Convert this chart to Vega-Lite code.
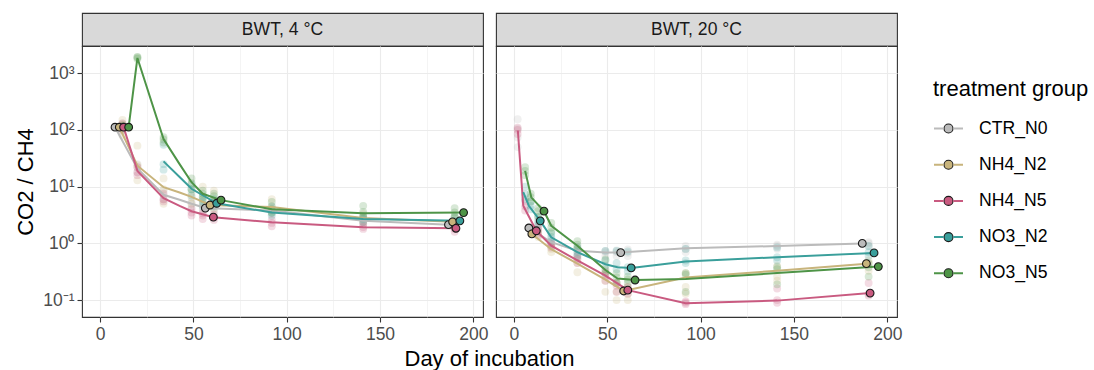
{
  "$schema": "https://vega.github.io/schema/vega-lite/v6.json",
  "background": "white",
  "padding": {"left": 14, "top": 12, "right": 10, "bottom": 0},
  "config": {"font": "Liberation Sans", "view": {"stroke": null}},
  "datasets": {
    "means4": [
      {"group":"CTR_N0","day":8.0,"value":112,"outlined":true},
      {"group":"CTR_N0","day":20,"value":21,"outlined":false},
      {"group":"CTR_N0","day":34,"value":7.2,"outlined":false},
      {"group":"CTR_N0","day":42.6,"value":5.9,"outlined":false},
      {"group":"CTR_N0","day":49,"value":5.0,"outlined":false},
      {"group":"CTR_N0","day":56.4,"value":4.2,"outlined":true},
      {"group":"CTR_N0","day":92,"value":3.8,"outlined":false},
      {"group":"CTR_N0","day":141,"value":2.5,"outlined":false},
      {"group":"CTR_N0","day":186.7,"value":2.14,"outlined":true},
      {"group":"NH4_N2","day":10.3,"value":112,"outlined":true},
      {"group":"NH4_N2","day":20,"value":23.5,"outlined":false},
      {"group":"NH4_N2","day":34,"value":9.8,"outlined":false},
      {"group":"NH4_N2","day":42.6,"value":7.9,"outlined":false},
      {"group":"NH4_N2","day":49,"value":6.6,"outlined":false},
      {"group":"NH4_N2","day":58.9,"value":4.75,"outlined":true},
      {"group":"NH4_N2","day":92,"value":4.4,"outlined":false},
      {"group":"NH4_N2","day":141,"value":2.8,"outlined":false},
      {"group":"NH4_N2","day":188.9,"value":2.4,"outlined":true},
      {"group":"NH4_N5","day":12.6,"value":112,"outlined":true},
      {"group":"NH4_N5","day":20,"value":19,"outlined":false},
      {"group":"NH4_N5","day":34,"value":6.3,"outlined":false},
      {"group":"NH4_N5","day":42.6,"value":4.6,"outlined":false},
      {"group":"NH4_N5","day":49,"value":3.7,"outlined":false},
      {"group":"NH4_N5","day":60.7,"value":2.9,"outlined":true},
      {"group":"NH4_N5","day":92,"value":2.35,"outlined":false},
      {"group":"NH4_N5","day":141,"value":1.92,"outlined":false},
      {"group":"NH4_N5","day":190.7,"value":1.85,"outlined":true},
      {"group":"NO3_N2","day":34,"value":28,"outlined":false},
      {"group":"NO3_N2","day":42.6,"value":14.8,"outlined":false},
      {"group":"NO3_N2","day":49,"value":9.2,"outlined":false},
      {"group":"NO3_N2","day":62.5,"value":5.1,"outlined":true},
      {"group":"NO3_N2","day":92,"value":3.5,"outlined":false},
      {"group":"NO3_N2","day":141,"value":2.7,"outlined":false},
      {"group":"NO3_N2","day":192.8,"value":2.5,"outlined":true},
      {"group":"NO3_N5","day":15.3,"value":112,"outlined":true},
      {"group":"NO3_N5","day":20,"value":1860,"outlined":false},
      {"group":"NO3_N5","day":34,"value":69,"outlined":false},
      {"group":"NO3_N5","day":42.6,"value":25,"outlined":false},
      {"group":"NO3_N5","day":49,"value":12,"outlined":false},
      {"group":"NO3_N5","day":55,"value":7.5,"outlined":false},
      {"group":"NO3_N5","day":64.8,"value":5.8,"outlined":true},
      {"group":"NO3_N5","day":92,"value":4.0,"outlined":false},
      {"group":"NO3_N5","day":141,"value":3.4,"outlined":false},
      {"group":"NO3_N5","day":194.8,"value":3.5,"outlined":true}
    ],
    "means20": [
      {"group":"CTR_N0","day":8.0,"value":1.87,"outlined":true},
      {"group":"CTR_N0","day":20,"value":1.05,"outlined":false},
      {"group":"CTR_N0","day":34,"value":0.74,"outlined":false},
      {"group":"CTR_N0","day":49,"value":0.69,"outlined":false},
      {"group":"CTR_N0","day":57.2,"value":0.69,"outlined":true},
      {"group":"CTR_N0","day":92,"value":0.82,"outlined":false},
      {"group":"CTR_N0","day":141,"value":0.9,"outlined":false},
      {"group":"CTR_N0","day":186.6,"value":1.0,"outlined":true},
      {"group":"NH4_N2","day":9.6,"value":1.47,"outlined":true},
      {"group":"NH4_N2","day":20,"value":0.79,"outlined":false},
      {"group":"NH4_N2","day":34,"value":0.44,"outlined":false},
      {"group":"NH4_N2","day":49,"value":0.23,"outlined":false},
      {"group":"NH4_N2","day":58.8,"value":0.145,"outlined":true},
      {"group":"NH4_N2","day":92,"value":0.25,"outlined":false},
      {"group":"NH4_N2","day":141,"value":0.33,"outlined":false},
      {"group":"NH4_N2","day":188.8,"value":0.44,"outlined":true},
      {"group":"NH4_N5","day":2.1,"value":98,"outlined":false},
      {"group":"NH4_N5","day":5,"value":4.6,"outlined":false},
      {"group":"NH4_N5","day":12,"value":1.67,"outlined":true},
      {"group":"NH4_N5","day":20,"value":0.91,"outlined":false},
      {"group":"NH4_N5","day":34,"value":0.5,"outlined":false},
      {"group":"NH4_N5","day":49,"value":0.27,"outlined":false},
      {"group":"NH4_N5","day":61,"value":0.15,"outlined":true},
      {"group":"NH4_N5","day":92,"value":0.088,"outlined":false},
      {"group":"NH4_N5","day":141,"value":0.098,"outlined":false},
      {"group":"NH4_N5","day":190.8,"value":0.133,"outlined":true},
      {"group":"NO3_N2","day":5,"value":8,"outlined":false},
      {"group":"NO3_N2","day":8,"value":4.6,"outlined":false},
      {"group":"NO3_N2","day":14.1,"value":2.5,"outlined":true},
      {"group":"NO3_N2","day":20,"value":1.28,"outlined":false},
      {"group":"NO3_N2","day":34,"value":0.7,"outlined":false},
      {"group":"NO3_N2","day":49,"value":0.43,"outlined":false},
      {"group":"NO3_N2","day":55.5,"value":0.38,"outlined":false},
      {"group":"NO3_N2","day":62.8,"value":0.37,"outlined":true},
      {"group":"NO3_N2","day":92,"value":0.48,"outlined":false},
      {"group":"NO3_N2","day":141,"value":0.57,"outlined":false},
      {"group":"NO3_N2","day":192.9,"value":0.68,"outlined":true},
      {"group":"NO3_N5","day":6,"value":19,"outlined":false},
      {"group":"NO3_N5","day":9.3,"value":6.5,"outlined":false},
      {"group":"NO3_N5","day":16.1,"value":3.7,"outlined":true},
      {"group":"NO3_N5","day":20,"value":2.05,"outlined":false},
      {"group":"NO3_N5","day":34,"value":0.91,"outlined":false},
      {"group":"NO3_N5","day":49,"value":0.34,"outlined":false},
      {"group":"NO3_N5","day":55.5,"value":0.24,"outlined":false},
      {"group":"NO3_N5","day":64.9,"value":0.226,"outlined":true},
      {"group":"NO3_N5","day":92,"value":0.235,"outlined":false},
      {"group":"NO3_N5","day":141,"value":0.3,"outlined":false},
      {"group":"NO3_N5","day":195.2,"value":0.39,"outlined":true}
    ],
    "reps4": [
      {"group":"CTR_N0","day":12,"value":95},{"group":"CTR_N0","day":12,"value":120},{"group":"CTR_N0","day":12,"value":130},
      {"group":"NH4_N2","day":12,"value":80},{"group":"NH4_N2","day":12,"value":125},{"group":"NH4_N2","day":12,"value":150},
      {"group":"NH4_N5","day":12,"value":100},{"group":"NH4_N5","day":12,"value":115},{"group":"NH4_N5","day":12,"value":130},
      {"group":"NO3_N5","day":12,"value":105},{"group":"NO3_N5","day":12,"value":115},{"group":"NO3_N5","day":12,"value":120},
      {"group":"CTR_N0","day":20,"value":18},{"group":"CTR_N0","day":20,"value":22},{"group":"CTR_N0","day":20,"value":25},
      {"group":"NH4_N2","day":20,"value":13},{"group":"NH4_N2","day":20,"value":24},{"group":"NH4_N2","day":20,"value":53},
      {"group":"NH4_N5","day":20,"value":16},{"group":"NH4_N5","day":20,"value":18},{"group":"NH4_N5","day":20,"value":22},
      {"group":"NO3_N5","day":20,"value":1800},{"group":"NO3_N5","day":20,"value":1900},{"group":"NO3_N5","day":20,"value":1950},
      {"group":"CTR_N0","day":34,"value":6},{"group":"CTR_N0","day":34,"value":7},{"group":"CTR_N0","day":34,"value":8.5},
      {"group":"NH4_N2","day":34,"value":5},{"group":"NH4_N2","day":34,"value":9},{"group":"NH4_N2","day":34,"value":14},
      {"group":"NH4_N5","day":34,"value":5.5},{"group":"NH4_N5","day":34,"value":6},{"group":"NH4_N5","day":34,"value":7.5},
      {"group":"NO3_N2","day":34,"value":20},{"group":"NO3_N2","day":34,"value":25},{"group":"NO3_N2","day":34,"value":55},
      {"group":"NO3_N5","day":34,"value":60},{"group":"NO3_N5","day":34,"value":68},{"group":"NO3_N5","day":34,"value":75},
      {"group":"CTR_N0","day":49,"value":4.4},{"group":"CTR_N0","day":49,"value":5},{"group":"CTR_N0","day":49,"value":5.5},
      {"group":"NH4_N2","day":49,"value":5},{"group":"NH4_N2","day":49,"value":6.5},{"group":"NH4_N2","day":49,"value":8},
      {"group":"NH4_N5","day":49,"value":3.1},{"group":"NH4_N5","day":49,"value":3.5},{"group":"NH4_N5","day":49,"value":4},
      {"group":"NO3_N2","day":49,"value":7},{"group":"NO3_N2","day":49,"value":9},{"group":"NO3_N2","day":49,"value":11},
      {"group":"NO3_N5","day":49,"value":9},{"group":"NO3_N5","day":49,"value":11.5},{"group":"NO3_N5","day":49,"value":14},
      {"group":"CTR_N0","day":55,"value":3.8},{"group":"CTR_N0","day":55,"value":4.2},{"group":"CTR_N0","day":55,"value":4.8},
      {"group":"NH4_N2","day":55,"value":5},{"group":"NH4_N2","day":55,"value":6.8},{"group":"NH4_N2","day":55,"value":10},
      {"group":"NH4_N5","day":55,"value":2.7},{"group":"NH4_N5","day":55,"value":3.1},{"group":"NH4_N5","day":55,"value":3.4},
      {"group":"NO3_N2","day":55,"value":4.5},{"group":"NO3_N2","day":55,"value":5.5},{"group":"NO3_N2","day":55,"value":6.5},
      {"group":"NO3_N5","day":55,"value":6},{"group":"NO3_N5","day":55,"value":7.5},{"group":"NO3_N5","day":55,"value":8.5},
      {"group":"CTR_N0","day":61,"value":3.7},{"group":"CTR_N0","day":61,"value":4.2},{"group":"CTR_N0","day":61,"value":4.5},
      {"group":"NH4_N2","day":61,"value":4},{"group":"NH4_N2","day":61,"value":5.5},{"group":"NH4_N2","day":61,"value":8.5},
      {"group":"NH4_N5","day":61,"value":2.6},{"group":"NH4_N5","day":61,"value":2.9},{"group":"NH4_N5","day":61,"value":3.2},
      {"group":"NO3_N2","day":61,"value":4.5},{"group":"NO3_N2","day":61,"value":5.2},{"group":"NO3_N2","day":61,"value":6},
      {"group":"NO3_N5","day":61,"value":5.5},{"group":"NO3_N5","day":61,"value":6.8},{"group":"NO3_N5","day":61,"value":7.5},
      {"group":"CTR_N0","day":92,"value":3.3},{"group":"CTR_N0","day":92,"value":3.8},{"group":"CTR_N0","day":92,"value":4.2},
      {"group":"NH4_N2","day":92,"value":3.8},{"group":"NH4_N2","day":92,"value":4.5},{"group":"NH4_N2","day":92,"value":6},
      {"group":"NH4_N5","day":92,"value":2},{"group":"NH4_N5","day":92,"value":2.3},{"group":"NH4_N5","day":92,"value":2.6},
      {"group":"NO3_N2","day":92,"value":3.1},{"group":"NO3_N2","day":92,"value":3.5},{"group":"NO3_N2","day":92,"value":4.5},
      {"group":"NO3_N5","day":92,"value":3.5},{"group":"NO3_N5","day":92,"value":4},{"group":"NO3_N5","day":92,"value":5.4},
      {"group":"CTR_N0","day":141,"value":2.2},{"group":"CTR_N0","day":141,"value":2.5},{"group":"CTR_N0","day":141,"value":2.8},
      {"group":"NH4_N2","day":141,"value":2.4},{"group":"NH4_N2","day":141,"value":2.8},{"group":"NH4_N2","day":141,"value":3.3},
      {"group":"NH4_N5","day":141,"value":1.8},{"group":"NH4_N5","day":141,"value":1.95},{"group":"NH4_N5","day":141,"value":2.2},
      {"group":"NO3_N2","day":141,"value":2.4},{"group":"NO3_N2","day":141,"value":2.7},{"group":"NO3_N2","day":141,"value":3},
      {"group":"NO3_N5","day":141,"value":3},{"group":"NO3_N5","day":141,"value":3.6},{"group":"NO3_N5","day":141,"value":4.6},
      {"group":"CTR_N0","day":190,"value":1.9},{"group":"CTR_N0","day":190,"value":2.1},{"group":"CTR_N0","day":190,"value":2.4},
      {"group":"NH4_N2","day":190,"value":2.1},{"group":"NH4_N2","day":190,"value":2.4},{"group":"NH4_N2","day":190,"value":2.8},
      {"group":"NH4_N5","day":190,"value":1.6},{"group":"NH4_N5","day":190,"value":1.8},{"group":"NH4_N5","day":190,"value":2},
      {"group":"NO3_N2","day":190,"value":2.2},{"group":"NO3_N2","day":190,"value":2.5},{"group":"NO3_N2","day":190,"value":2.9},
      {"group":"NO3_N5","day":190,"value":3},{"group":"NO3_N5","day":190,"value":3.5},{"group":"NO3_N5","day":190,"value":4.2}
    ],
    "reps20": [
      {"group":"CTR_N0","day":2,"value":50},{"group":"CTR_N0","day":2,"value":74},{"group":"CTR_N0","day":2,"value":105},{"group":"CTR_N0","day":2,"value":155},
      {"group":"NH4_N5","day":2,"value":85},{"group":"NH4_N5","day":2,"value":100},{"group":"NH4_N5","day":2,"value":110},
      {"group":"NH4_N5","day":6,"value":3.8},{"group":"NH4_N5","day":6,"value":4.5},{"group":"NH4_N5","day":6,"value":5.5},
      {"group":"NO3_N2","day":6,"value":6},{"group":"NO3_N2","day":6,"value":7.4},{"group":"NO3_N2","day":6,"value":10},
      {"group":"NO3_N5","day":6,"value":16},{"group":"NO3_N5","day":6,"value":19},{"group":"NO3_N5","day":6,"value":22},
      {"group":"NO3_N2","day":9,"value":4},{"group":"NO3_N2","day":9,"value":4.6},{"group":"NO3_N2","day":9,"value":5.5},
      {"group":"NO3_N5","day":9,"value":5.5},{"group":"NO3_N5","day":9,"value":6.5},{"group":"NO3_N5","day":9,"value":7.5},
      {"group":"CTR_N0","day":13,"value":1.6},{"group":"CTR_N0","day":13,"value":1.9},{"group":"CTR_N0","day":13,"value":2.2},
      {"group":"NH4_N2","day":13,"value":1.3},{"group":"NH4_N2","day":13,"value":1.5},{"group":"NH4_N2","day":13,"value":1.7},
      {"group":"NH4_N5","day":13,"value":1.4},{"group":"NH4_N5","day":13,"value":1.7},{"group":"NH4_N5","day":13,"value":2},
      {"group":"NO3_N2","day":13,"value":2.2},{"group":"NO3_N2","day":13,"value":2.5},{"group":"NO3_N2","day":13,"value":2.9},
      {"group":"NO3_N5","day":13,"value":3},{"group":"NO3_N5","day":13,"value":3.7},{"group":"NO3_N5","day":13,"value":4.2},
      {"group":"CTR_N0","day":20,"value":0.9},{"group":"CTR_N0","day":20,"value":1.05},{"group":"CTR_N0","day":20,"value":1.2},
      {"group":"NH4_N2","day":20,"value":0.7},{"group":"NH4_N2","day":20,"value":0.8},{"group":"NH4_N2","day":20,"value":0.9},
      {"group":"NH4_N5","day":20,"value":0.85},{"group":"NH4_N5","day":20,"value":0.95},{"group":"NH4_N5","day":20,"value":1},
      {"group":"NO3_N2","day":20,"value":1.1},{"group":"NO3_N2","day":20,"value":1.3},{"group":"NO3_N2","day":20,"value":1.5},
      {"group":"NO3_N5","day":20,"value":1.6},{"group":"NO3_N5","day":20,"value":1.9},{"group":"NO3_N5","day":20,"value":2.3},
      {"group":"CTR_N0","day":34,"value":0.65},{"group":"CTR_N0","day":34,"value":0.75},{"group":"CTR_N0","day":34,"value":0.85},
      {"group":"NH4_N2","day":34,"value":0.31},{"group":"NH4_N2","day":34,"value":0.45},{"group":"NH4_N2","day":34,"value":0.55},
      {"group":"NH4_N5","day":34,"value":0.45},{"group":"NH4_N5","day":34,"value":0.52},{"group":"NH4_N5","day":34,"value":0.6},
      {"group":"NO3_N2","day":34,"value":0.6},{"group":"NO3_N2","day":34,"value":0.7},{"group":"NO3_N2","day":34,"value":0.85},
      {"group":"NO3_N5","day":34,"value":0.8},{"group":"NO3_N5","day":34,"value":0.95},{"group":"NO3_N5","day":34,"value":1.1},
      {"group":"CTR_N0","day":49,"value":0.6},{"group":"CTR_N0","day":49,"value":0.7},{"group":"CTR_N0","day":49,"value":0.74},
      {"group":"NH4_N2","day":49,"value":0.14},{"group":"NH4_N2","day":49,"value":0.22},{"group":"NH4_N2","day":49,"value":0.29},
      {"group":"NH4_N5","day":49,"value":0.22},{"group":"NH4_N5","day":49,"value":0.27},{"group":"NH4_N5","day":49,"value":0.32},
      {"group":"NO3_N2","day":49,"value":0.4},{"group":"NO3_N2","day":49,"value":0.5},{"group":"NO3_N2","day":49,"value":0.74},
      {"group":"NO3_N5","day":49,"value":0.3},{"group":"NO3_N5","day":49,"value":0.35},{"group":"NO3_N5","day":49,"value":0.52},
      {"group":"CTR_N0","day":55,"value":0.6},{"group":"CTR_N0","day":55,"value":0.7},{"group":"CTR_N0","day":55,"value":0.75},
      {"group":"NH4_N2","day":55,"value":0.1},{"group":"NH4_N2","day":55,"value":0.14},{"group":"NH4_N2","day":55,"value":0.2},
      {"group":"NH4_N5","day":55,"value":0.14},{"group":"NH4_N5","day":55,"value":0.18},{"group":"NH4_N5","day":55,"value":0.2},
      {"group":"NO3_N2","day":55,"value":0.35},{"group":"NO3_N2","day":55,"value":0.45},{"group":"NO3_N2","day":55,"value":0.74},
      {"group":"NO3_N5","day":55,"value":0.2},{"group":"NO3_N5","day":55,"value":0.25},{"group":"NO3_N5","day":55,"value":0.3},
      {"group":"CTR_N0","day":61,"value":0.6},{"group":"CTR_N0","day":61,"value":0.68},{"group":"CTR_N0","day":61,"value":0.78},
      {"group":"NH4_N2","day":61,"value":0.1},{"group":"NH4_N2","day":61,"value":0.13},{"group":"NH4_N2","day":61,"value":0.17},
      {"group":"NH4_N5","day":61,"value":0.13},{"group":"NH4_N5","day":61,"value":0.15},{"group":"NH4_N5","day":61,"value":0.17},
      {"group":"NO3_N2","day":61,"value":0.32},{"group":"NO3_N2","day":61,"value":0.38},{"group":"NO3_N2","day":61,"value":0.72},
      {"group":"NO3_N5","day":61,"value":0.2},{"group":"NO3_N5","day":61,"value":0.23},{"group":"NO3_N5","day":61,"value":0.26},
      {"group":"CTR_N0","day":92,"value":0.7},{"group":"CTR_N0","day":92,"value":0.8},{"group":"CTR_N0","day":92,"value":0.9},
      {"group":"NH4_N2","day":92,"value":0.13},{"group":"NH4_N2","day":92,"value":0.17},{"group":"NH4_N2","day":92,"value":0.3},
      {"group":"NH4_N5","day":92,"value":0.085},{"group":"NH4_N5","day":92,"value":0.09},{"group":"NH4_N5","day":92,"value":0.095},
      {"group":"NO3_N2","day":92,"value":0.45},{"group":"NO3_N2","day":92,"value":0.5},{"group":"NO3_N2","day":92,"value":0.8},
      {"group":"NO3_N5","day":92,"value":0.14},{"group":"NO3_N5","day":92,"value":0.28},{"group":"NO3_N5","day":92,"value":0.3},
      {"group":"CTR_N0","day":141,"value":0.8},{"group":"CTR_N0","day":141,"value":0.9},{"group":"CTR_N0","day":141,"value":0.95},
      {"group":"NH4_N2","day":141,"value":0.22},{"group":"NH4_N2","day":141,"value":0.26},{"group":"NH4_N2","day":141,"value":0.4},
      {"group":"NH4_N5","day":141,"value":0.09},{"group":"NH4_N5","day":141,"value":0.1},{"group":"NH4_N5","day":141,"value":0.16},
      {"group":"NO3_N2","day":141,"value":0.5},{"group":"NO3_N2","day":141,"value":0.57},{"group":"NO3_N2","day":141,"value":0.85},
      {"group":"NO3_N5","day":141,"value":0.19},{"group":"NO3_N5","day":141,"value":0.35},{"group":"NO3_N5","day":141,"value":0.38},
      {"group":"CTR_N0","day":190,"value":0.9},{"group":"CTR_N0","day":190,"value":1},{"group":"CTR_N0","day":190,"value":1.05},
      {"group":"NH4_N2","day":190,"value":0.33},{"group":"NH4_N2","day":190,"value":0.44},{"group":"NH4_N2","day":190,"value":0.5},
      {"group":"NH4_N5","day":190,"value":0.12},{"group":"NH4_N5","day":190,"value":0.13},{"group":"NH4_N5","day":190,"value":0.2},
      {"group":"NO3_N2","day":190,"value":0.6},{"group":"NO3_N2","day":190,"value":0.7},{"group":"NO3_N2","day":190,"value":0.9},
      {"group":"NO3_N5","day":190,"value":0.26},{"group":"NO3_N5","day":190,"value":0.38},{"group":"NO3_N5","day":190,"value":0.45}
    ]
  },
  "columns": 2,
  "bounds": "flush",
  "spacing": {"row": 0, "column": 13},
  "concat": [
    {
      "width": 401, "height": 33,
      "view": {"fill": "#D9D9D9", "stroke": "#333333", "strokeWidth": 1.1},
      "data": {"values": [{"label": "BWT, 4 °C"}]},
      "mark": {"type": "text", "fontSize": 17.6, "color": "#1A1A1A", "align": "center", "baseline": "middle"},
      "encoding": {"text": {"field": "label", "type": "nominal"}}
    },
    {
      "width": 401, "height": 33,
      "view": {"fill": "#D9D9D9", "stroke": "#333333", "strokeWidth": 1.1},
      "data": {"values": [{"label": "BWT, 20 °C"}]},
      "mark": {"type": "text", "fontSize": 17.6, "color": "#1A1A1A", "align": "center", "baseline": "middle"},
      "encoding": {"text": {"field": "label", "type": "nominal"}}
    },
    {
      "width": 401, "height": 271,
      "view": {"stroke": "#333333", "strokeWidth": 1.1},
      "encoding": {
        "x": {"field": "day", "type": "quantitative",
          "scale": {"domain": [-9.7, 205.2], "nice": false, "zero": false},
          "axis": {"values": [0, 25, 50, 75, 100, 125, 150, 175, 200],
            "labelExpr": "datum.value % 50 === 0 ? datum.label : ''",
            "grid": true, "gridColor": "#EBEBEB",
            "gridWidth": {"condition": {"test": "datum.value % 50 === 0", "value": 1.1}, "value": 0.55},
            "tickOpacity": {"condition": {"test": "datum.value % 50 === 0", "value": 1}, "value": 0},
            "domain": false, "tickColor": "#333333", "tickSize": 5, "tickWidth": 1.1,
            "labelColor": "#4D4D4D", "labelFontSize": 17.5, "labelPadding": 3, "labelFlush": false, "labelOverlap": false,
            "title": "Day of incubation", "titleX": 407, "titleFontSize": 22, "titleFontWeight": "normal", "titleColor": "#000000", "titlePadding": 6}},
        "y": {"field": "value", "type": "quantitative",
          "scale": {"type": "log", "domain": [0.0504, 3027], "nice": false},
          "axis": {"values": [0.1, 1, 10, 100, 1000],
            "labelExpr": "datum.value > 500 ? '10³' : datum.value > 50 ? '10²' : datum.value > 5 ? '10¹' : datum.value > 0.5 ? '10⁰' : '10⁻¹'",
            "grid": true, "gridColor": "#EBEBEB", "gridWidth": 1.1, "domain": false,
            "tickColor": "#333333", "tickSize": 5, "tickWidth": 1.1,
            "labelColor": "#4D4D4D", "labelFontSize": 17.5, "labelPadding": 3, "labelOverlap": false, "labelFlush": false,
            "title": "CO2 / CH4", "titleFontSize": 22, "titleFontWeight": "normal", "titleColor": "#000000", "titlePadding": 5}}
      },
      "layer": [
        {"data": {"name": "reps4"}, "mark": {"type": "circle", "size": 62, "opacity": 0.22},
          "encoding": {"fill": {"field": "group", "type": "nominal",
            "scale": {"domain": ["CTR_N0", "NH4_N2", "NH4_N5", "NO3_N2", "NO3_N5"], "range": ["#BBBBBB", "#C8B47C", "#C95A80", "#3A9F9B", "#4E9447"]},
            "legend": {"title": "treatment group", "orient": "none", "legendX": 851, "legendY": 66, "padding": 0,
              "titleFontSize": 22, "titleFontWeight": "normal", "titleColor": "transparent", "titlePadding": 12,
              "labelFontSize": 17.6, "labelColor": "transparent", "labelOffset": 15, "rowPadding": 11.2,
              "symbolType": "M0.31,0A0.31,0.31,0,1,1,-0.31,0A0.31,0.31,0,1,1,0.31,0Z", "symbolSize": 841,
              "symbolOpacity": 1, "symbolStrokeColor": "#1A1A1A", "symbolStrokeWidth": 1.1,
              "encode": {"symbols": {"update": {"fill": {"scale": "fill", "field": "value"}, "stroke": {"value": "#1A1A1A"}, "opacity": {"value": 1}, "fillOpacity": {"value": 1}, "strokeWidth": {"value": 1.1}}}}}}}},
        {"data": {"name": "means4"}, "mark": {"type": "line", "strokeWidth": 2},
          "encoding": {"stroke": {"field": "group", "type": "nominal",
            "scale": {"range": ["#BBBBBB", "#C8B47C", "#C95A80", "#3A9F9B", "#4E9447"]},
            "legend": {"title": "treatment group", "orient": "none", "legendX": 851, "legendY": 66, "padding": 0,
              "titleFontSize": 22, "titleFontWeight": "normal", "titleColor": "#000000", "titlePadding": 12,
              "labelFontSize": 17.6, "labelColor": "#000000", "labelOffset": 15, "rowPadding": 11.2,
              "symbolType": "M-1,0H-0.33M0.33,0H1", "symbolSize": 841,
              "encode": {"symbols": {"update": {"stroke": {"scale": "stroke", "field": "value"}, "fill": {"value": "transparent"}, "opacity": {"value": 1}, "strokeWidth": {"value": 2}}}}}}}},
        {"data": {"name": "means4"}, "transform": [{"filter": "datum.outlined"}], "mark": {"type": "point", "filled": true, "size": 60, "opacity": 1, "stroke": "#1A1A1A", "strokeWidth": 1.1},
          "encoding": {"fill": {"field": "group", "type": "nominal",
            "scale": {"domain": ["CTR_N0", "NH4_N2", "NH4_N5", "NO3_N2", "NO3_N5"], "range": ["#BBBBBB", "#C8B47C", "#C95A80", "#3A9F9B", "#4E9447"]},
            "legend": {"title": "treatment group", "orient": "none", "legendX": 851, "legendY": 66, "padding": 0,
              "titleFontSize": 22, "titleFontWeight": "normal", "titleColor": "transparent", "titlePadding": 12,
              "labelFontSize": 17.6, "labelColor": "transparent", "labelOffset": 15, "rowPadding": 11.2,
              "symbolType": "M0.31,0A0.31,0.31,0,1,1,-0.31,0A0.31,0.31,0,1,1,0.31,0Z", "symbolSize": 841,
              "symbolOpacity": 1, "symbolStrokeColor": "#1A1A1A", "symbolStrokeWidth": 1.1,
              "encode": {"symbols": {"update": {"fill": {"scale": "fill", "field": "value"}, "stroke": {"value": "#1A1A1A"}, "opacity": {"value": 1}, "fillOpacity": {"value": 1}, "strokeWidth": {"value": 1.1}}}}}}}}
      ]
    },
    {
      "width": 401, "height": 271,
      "view": {"stroke": "#333333", "strokeWidth": 1.1},
      "encoding": {
        "x": {"field": "day", "type": "quantitative",
          "scale": {"domain": [-9.6, 205.2], "nice": false, "zero": false},
          "axis": {"values": [0, 25, 50, 75, 100, 125, 150, 175, 200],
            "labelExpr": "datum.value % 50 === 0 ? datum.label : ''",
            "grid": true, "gridColor": "#EBEBEB",
            "gridWidth": {"condition": {"test": "datum.value % 50 === 0", "value": 1.1}, "value": 0.55},
            "tickOpacity": {"condition": {"test": "datum.value % 50 === 0", "value": 1}, "value": 0},
            "domain": false, "tickColor": "#333333", "tickSize": 5, "tickWidth": 1.1,
            "labelColor": "#4D4D4D", "labelFontSize": 17.5, "labelPadding": 3, "labelFlush": false, "labelOverlap": false,
            "title": null}},
        "y": {"field": "value", "type": "quantitative",
          "scale": {"type": "log", "domain": [0.0504, 3027], "nice": false},
          "axis": {"values": [0.1, 1, 10, 100, 1000], "labels": false, "ticks": false, "domain": false, "title": null,
            "grid": true, "gridColor": "#EBEBEB", "gridWidth": 1.1, "minExtent": 0}}
      },
      "layer": [
        {"data": {"name": "reps20"}, "mark": {"type": "circle", "size": 62, "opacity": 0.22},
          "encoding": {"fill": {"field": "group", "type": "nominal",
            "scale": {"domain": ["CTR_N0", "NH4_N2", "NH4_N5", "NO3_N2", "NO3_N5"], "range": ["#BBBBBB", "#C8B47C", "#C95A80", "#3A9F9B", "#4E9447"]},
            "legend": {"title": "treatment group", "orient": "none", "legendX": 851, "legendY": 66, "padding": 0,
              "titleFontSize": 22, "titleFontWeight": "normal", "titleColor": "transparent", "titlePadding": 12,
              "labelFontSize": 17.6, "labelColor": "transparent", "labelOffset": 15, "rowPadding": 11.2,
              "symbolType": "M0.31,0A0.31,0.31,0,1,1,-0.31,0A0.31,0.31,0,1,1,0.31,0Z", "symbolSize": 841,
              "symbolOpacity": 1, "symbolStrokeColor": "#1A1A1A", "symbolStrokeWidth": 1.1,
              "encode": {"symbols": {"update": {"fill": {"scale": "fill", "field": "value"}, "stroke": {"value": "#1A1A1A"}, "opacity": {"value": 1}, "fillOpacity": {"value": 1}, "strokeWidth": {"value": 1.1}}}}}}}},
        {"data": {"name": "means20"}, "mark": {"type": "line", "strokeWidth": 2},
          "encoding": {"stroke": {"field": "group", "type": "nominal",
            "scale": {"range": ["#BBBBBB", "#C8B47C", "#C95A80", "#3A9F9B", "#4E9447"]},
            "legend": {"title": "treatment group", "orient": "none", "legendX": 851, "legendY": 66, "padding": 0,
              "titleFontSize": 22, "titleFontWeight": "normal", "titleColor": "#000000", "titlePadding": 12,
              "labelFontSize": 17.6, "labelColor": "#000000", "labelOffset": 15, "rowPadding": 11.2,
              "symbolType": "M-1,0H-0.33M0.33,0H1", "symbolSize": 841,
              "encode": {"symbols": {"update": {"stroke": {"scale": "stroke", "field": "value"}, "fill": {"value": "transparent"}, "opacity": {"value": 1}, "strokeWidth": {"value": 2}}}}}}}},
        {"data": {"name": "means20"}, "transform": [{"filter": "datum.outlined"}], "mark": {"type": "point", "filled": true, "size": 60, "opacity": 1, "stroke": "#1A1A1A", "strokeWidth": 1.1},
          "encoding": {"fill": {"field": "group", "type": "nominal",
            "scale": {"domain": ["CTR_N0", "NH4_N2", "NH4_N5", "NO3_N2", "NO3_N5"], "range": ["#BBBBBB", "#C8B47C", "#C95A80", "#3A9F9B", "#4E9447"]},
            "legend": {"title": "treatment group", "orient": "none", "legendX": 851, "legendY": 66, "padding": 0,
              "titleFontSize": 22, "titleFontWeight": "normal", "titleColor": "transparent", "titlePadding": 12,
              "labelFontSize": 17.6, "labelColor": "transparent", "labelOffset": 15, "rowPadding": 11.2,
              "symbolType": "M0.31,0A0.31,0.31,0,1,1,-0.31,0A0.31,0.31,0,1,1,0.31,0Z", "symbolSize": 841,
              "symbolOpacity": 1, "symbolStrokeColor": "#1A1A1A", "symbolStrokeWidth": 1.1,
              "encode": {"symbols": {"update": {"fill": {"scale": "fill", "field": "value"}, "stroke": {"value": "#1A1A1A"}, "opacity": {"value": 1}, "fillOpacity": {"value": 1}, "strokeWidth": {"value": 1.1}}}}}}}}
      ]
    }
  ]
}
